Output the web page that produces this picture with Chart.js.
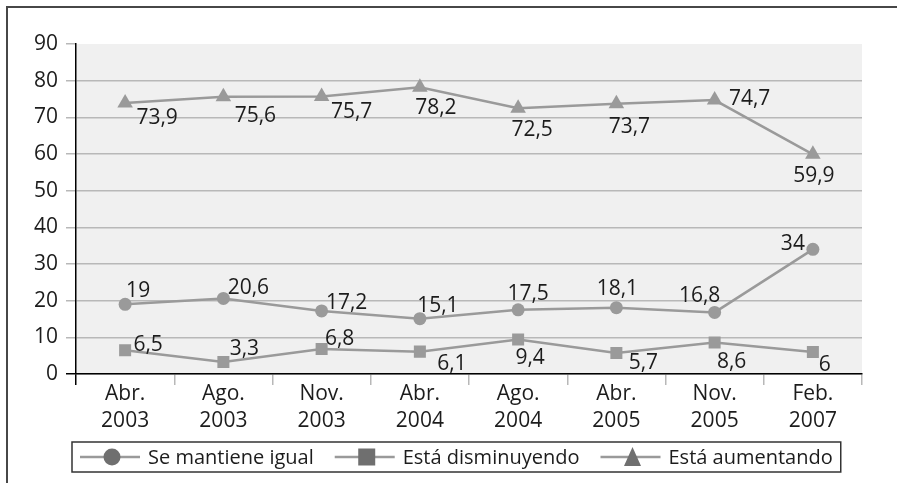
<!DOCTYPE html>
<html lang="es">
<head>
<meta charset="utf-8">
<title>Percepción de la inseguridad</title>
<script src="https://cdn.jsdelivr.net/npm/chart.js@4/dist/chart.umd.min.js"></script>
<style>
  html, body { margin: 0; padding: 0; background: #fff; }
  canvas { display: block; }
</style>
</head>
<body>
<canvas id="chart" width="897" height="483"></canvas>
<script>
// Survey periods (two-line axis labels)
const periods = [
    ['Abr.', '2003'], ['Ago.', '2003'], ['Nov.', '2003'], ['Abr.', '2004'],
    ['Ago.', '2004'], ['Abr.', '2005'], ['Nov.', '2005'], ['Feb.', '2007']
];

// Series values (%)
const seMantiene = [19, 20.6, 17.2, 15.1, 17.5, 18.1, 16.8, 34];
const disminuyendo = [6.5, 3.3, 6.8, 6.1, 9.4, 5.7, 8.6, 6];
const aumentando = [73.9, 75.6, 75.7, 78.2, 72.5, 73.7, 74.7, 59.9];

const seriesNames = ['Se mantiene igual', 'Está disminuyendo', 'Está aumentando'];
const yTicks = [0, 10, 20, 30, 40, 50, 60, 70, 80, 90];

// Where each value label sits relative to its point, in px [dx, dy]
const labelPos = [
    [[13, -13], [25, -10], [25, -8], [18, -13], [10, -16], [1, -19], [-15, -16], [-20, -5]],
    [[23, -5], [21, -13], [18, -10], [32, 12], [12, 18], [27, 10], [17, 20], [12, 13]],
    [[32, 15], [32, 19], [30, 16], [16, 21], [14, 22], [13, 23], [35, -1], [1, 22]]
];

const FONT = '"Open Sans", "Noto Sans", sans-serif';
const LINE = '#9a9a9a';
const MARK = '#6f6f6f';
const GRID = '#b8b8b8';
const TEXT = '#1c1c1c';

const fmt = v => String(v).replace('.', ',');

// Gray plot background + outer frame
const backdrop = {
    id: 'backdrop',
    beforeDraw(chart) {
        const { ctx, chartArea: a } = chart;
        ctx.save();
        ctx.fillStyle = '#f0f0f0';
        ctx.fillRect(a.left, a.top, a.right - a.left, a.bottom - a.top);
        ctx.strokeStyle = '#474747';
        ctx.lineWidth = 2;
        ctx.beginPath();
        ctx.moveTo(7, chart.height);
        ctx.lineTo(7, 7);
        ctx.lineTo(chart.width, 7);
        ctx.stroke();
        ctx.restore();
    }
};

// Value labels next to each point
const valueLabels = {
    id: 'valueLabels',
    afterDatasetsDraw(chart) {
        const ctx = chart.ctx;
        ctx.save();
        ctx.font = '21px ' + FONT;
        ctx.fillStyle = TEXT;
        ctx.textAlign = 'center';
        ctx.textBaseline = 'middle';
        chart.data.datasets.forEach((ds, di) => {
            chart.getDatasetMeta(di).data.forEach((pt, i) => {
                const [dx, dy] = labelPos[di][i];
                ctx.fillText(fmt(ds.data[i]), pt.x + dx, pt.y + dy);
            });
        });
        ctx.restore();
    }
};

function drawMarker(ctx, style, x, y) {
    ctx.beginPath();
    if (style === 'circle') {
        ctx.arc(x, y, 8.5, 0, Math.PI * 2);
    } else if (style === 'rect') {
        ctx.rect(x - 8.5, y - 8.5, 17, 17);
    } else {
        ctx.moveTo(x, y - 10);
        ctx.lineTo(x + 8.5, y + 9);
        ctx.lineTo(x - 8.5, y + 9);
        ctx.closePath();
    }
    ctx.fill();
}

// Boxed legend under the axis: line-marker-line symbol then name
const boxLegend = {
    id: 'boxLegend',
    afterDraw(chart) {
        const ctx = chart.ctx;
        const top = 442, bottom = 472, mid = 457;
        const symW = 60, gapText = 8, gapItem = 21, pad = 8;
        ctx.save();
        ctx.font = '20px ' + FONT;
        let x = 72 + pad;
        const items = chart.data.datasets.map(ds => {
            const item = { ds, x, w: ctx.measureText(ds.label).width };
            x += symW + gapText + item.w + gapItem;
            return item;
        });
        const right = x - gapItem + pad;
        ctx.strokeStyle = '#333';
        ctx.lineWidth = 1.5;
        ctx.strokeRect(72, top, right - 72, bottom - top);
        items.forEach(it => {
            ctx.strokeStyle = LINE;
            ctx.lineWidth = 2.5;
            ctx.beginPath();
            ctx.moveTo(it.x, mid);
            ctx.lineTo(it.x + symW, mid);
            ctx.stroke();
            ctx.fillStyle = MARK;
            drawMarker(ctx, it.ds.pointStyle, it.x + symW / 2 + 2, mid);
            ctx.fillStyle = TEXT;
            ctx.textAlign = 'left';
            ctx.textBaseline = 'middle';
            ctx.fillText(it.ds.label, it.x + symW + gapText, mid + 1);
        });
        ctx.restore();
    }
};

function series(label, data, pointStyle, radius) {
    return {
        label, data, pointStyle,
        borderColor: LINE,
        backgroundColor: LINE,
        borderWidth: 2.5,
        pointRadius: radius,
        pointHoverRadius: radius,
        pointBackgroundColor: LINE,
        pointBorderWidth: 0,
        tension: 0,
        fill: false
    };
}

new Chart(document.getElementById('chart'), {
    type: 'line',
    data: {
        labels: periods,
        datasets: [
            series(seriesNames[0], seMantiene, 'circle', 6.5),
            series(seriesNames[1], disminuyendo, 'rect', 8.5),
            series(seriesNames[2], aumentando, 'triangle', 9)
        ]
    },
    options: {
        responsive: false,
        animation: false,
        devicePixelRatio: 1,
        layout: { padding: { left: 0, top: 44, right: 35, bottom: 0 } },
        plugins: {
            legend: { display: false },
            tooltip: { enabled: false }
        },
        scales: {
            x: {
                offset: true,
                grid: {
                    offset: true,
                    drawOnChartArea: false,
                    tickLength: 11,
                    lineWidth: 1.5,
                    tickColor: c => c.index === 0 ? '#000' : GRID
                },
                border: { color: '#000', width: 1.5 },
                ticks: {
                    color: TEXT,
                    font: { family: FONT, size: 21, lineHeight: 1.29 },
                    padding: -5,
                    maxRotation: 0,
                    autoSkip: false
                },
                afterFit: s => { s.height = 109; }
            },
            y: {
                min: 0,
                max: 90,
                afterBuildTicks: s => { s.ticks = yTicks.map(v => ({ value: v })); },
                grid: {
                    lineWidth: 1.5,
                    tickLength: 10,
                    color: c => (c.tick && c.tick.value === 90) ? 'rgba(0,0,0,0)' : GRID,
                    tickColor: c => (c.tick && c.tick.value === 0) ? '#000' : GRID
                },
                border: { color: '#000', width: 1.5 },
                ticks: {
                    color: TEXT,
                    font: { family: FONT, size: 21 },
                    padding: 8
                },
                afterFit: s => { s.width = 76; }
            }
        }
    },
    plugins: [backdrop, valueLabels, boxLegend]
});
</script>
</body>
</html>
